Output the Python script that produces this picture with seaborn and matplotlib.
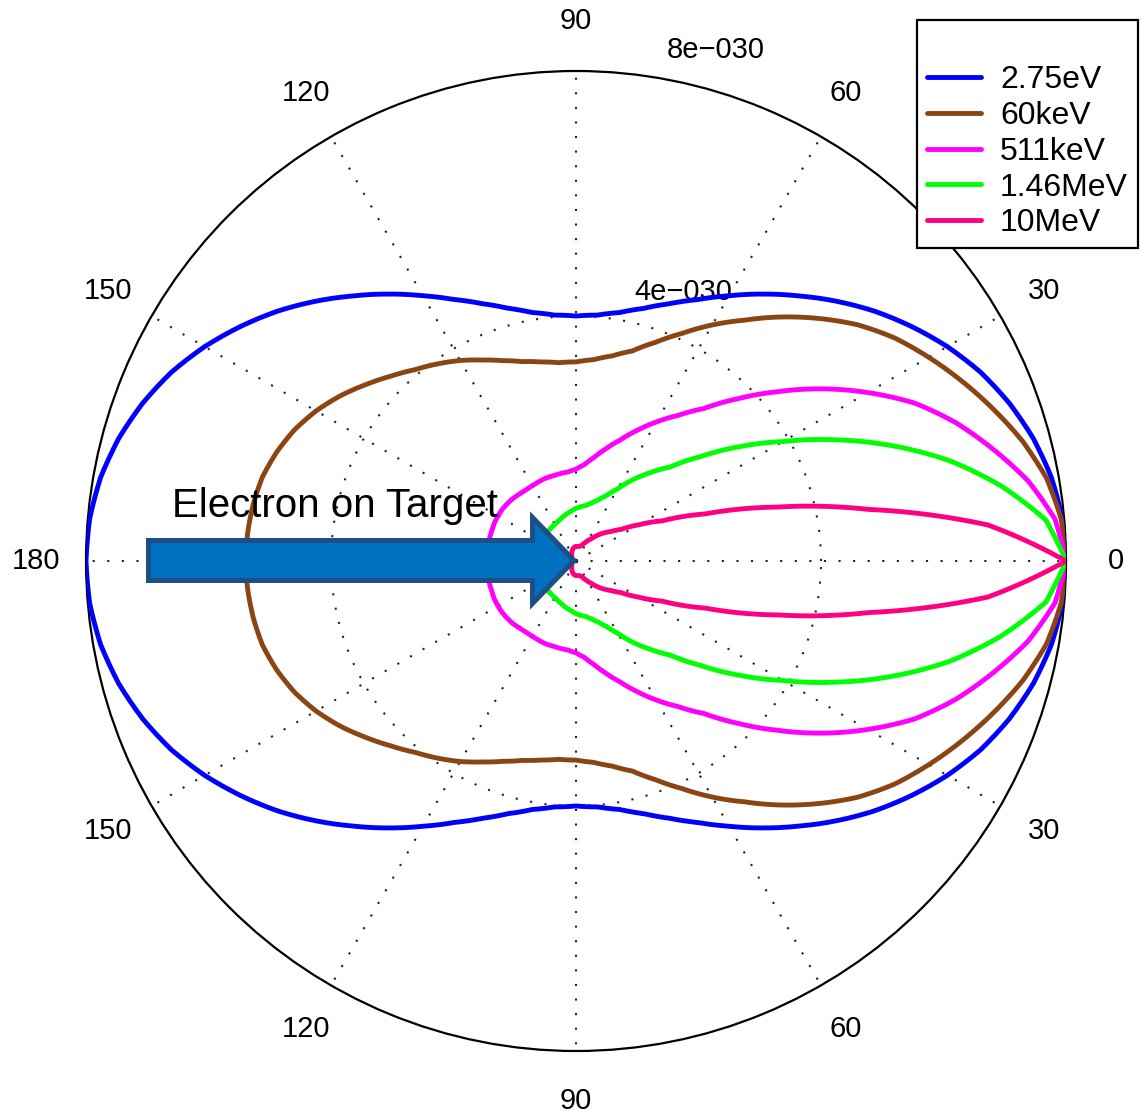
import numpy as np
import pandas as pd
import matplotlib
matplotlib.use("Agg")
import matplotlib.pyplot as plt
import seaborn as sns
from matplotlib.lines import Line2D
from matplotlib.patches import FancyArrow

# ---- data (upper half, angle in degrees 0..180; pattern is mirror-symmetric) ----
angles_deg = [0, 5, 10, 15, 20, 25, 30, 35, 40, 45, 50, 55, 60, 65, 70, 75, 80, 85, 90,
              95, 100, 105, 110, 115, 120, 125, 130, 135, 140, 145, 150, 155, 160, 165, 170, 175, 180]

# radial values in units of 1e-30
r_275eV = [8.00, 7.97, 7.88, 7.73, 7.53, 7.29, 7.00, 6.68, 6.35, 6.00, 5.65, 5.32, 5.00, 4.71, 4.47, 4.27, 4.12, 4.03, 4.00,
           4.03, 4.12, 4.27, 4.47, 4.71, 5.00, 5.32, 5.65, 6.00, 6.35, 6.68, 7.00, 7.29, 7.53, 7.73, 7.88, 7.97, 8.00]
r_60keV = [8.00, 7.95, 7.80, 7.55, 7.25, 6.95, 6.65, 6.35, 6.00, 5.60, 5.20, 4.80, 4.45, 4.10, 3.80, 3.55, 3.40, 3.30, 3.25,
           3.25, 3.30, 3.37, 3.48, 3.62, 3.78, 3.93, 4.08, 4.27, 4.48, 4.70, 4.90, 5.07, 5.20, 5.30, 5.35, 5.38, 5.39]
r_511keV = [8.00, 7.85, 7.50, 7.05, 6.60, 6.10, 5.50, 4.90, 4.30, 3.75, 3.25, 2.90, 2.62, 2.35, 2.10, 1.90, 1.72, 1.58, 1.50,
            1.46, 1.45, 1.44, 1.44, 1.43, 1.42, 1.42, 1.43, 1.45, 1.46, 1.47, 1.47, 1.47, 1.46, 1.46, 1.45, 1.45, 1.45]
r_146MeV = [8.00, 7.70, 7.05, 6.32, 5.50, 4.68, 3.90, 3.25, 2.65, 2.17, 1.88, 1.62, 1.36, 1.18, 1.06, 0.98, 0.92, 0.89, 0.86,
            0.82, 0.79, 0.76, 0.73, 0.71, 0.69, 0.68, 0.67, 0.67, 0.66, 0.65, 0.64, 0.63, 0.63, 0.62, 0.62, 0.62, 0.62]
r_10MeV = [8.00, 6.75, 4.85, 3.40, 2.25, 1.55, 1.18, 0.90, 0.75, 0.65, 0.55, 0.45, 0.38, 0.32, 0.27, 0.25, 0.24, 0.24, 0.24,
           0.23, 0.22, 0.20, 0.18, 0.16, 0.14, 0.12, 0.11, 0.10, 0.09, 0.08, 0.08, 0.07, 0.07, 0.07, 0.07, 0.07, 0.07]

series_labels = ["2.75eV", "60keV", "511keV", "1.46MeV", "10MeV"]
series_values = [r_275eV, r_60keV, r_511keV, r_146MeV, r_10MeV]
series_colors = ["#0000FF", "#8B4513", "#FF00FF", "#00FF00", "#FF0080"]

theta_tick_deg = [0, 30, 60, 90, 120, 150, 180, 210, 240, 270, 300, 330]
theta_tick_labels = ["0", "30", "60", "90", "120", "150", "180", "150", "120", "90", "60", "30"]
r_ticks = [4, 8]
r_tick_labels = ["4e\u2212030", "8e\u2212030"]

# ---- style ----
sns.set_theme(style="white")
plt.rcParams['font.family'] = ['Liberation Sans', 'DejaVu Sans']
plt.rcParams['text.color'] = 'black'

W, H = 1142, 1115
fig = plt.figure(figsize=(W / 100, H / 100), dpi=100)
fig.patch.set_facecolor("white")
cx, cy, R = 576, 561, 490
ax = fig.add_axes([(cx - R) / W, (H - cy - R) / H, 2 * R / W, 2 * R / H], projection='polar')
ax.set_facecolor("white")

# build full closed curves (mirror the upper half)
a = np.array(angles_deg, dtype=float)
rows = []
for lab, vals in zip(series_labels, series_values):
    v = np.array(vals, dtype=float)
    th = np.radians(np.concatenate([a, 360 - a[::-1][1:]]))
    rr = np.concatenate([v, v[::-1][1:]])
    for t, r in zip(th, rr):
        rows.append({"theta": t, "r": r, "energy": lab})
df = pd.DataFrame(rows)

sns.lineplot(data=df, x="theta", y="r", hue="energy", hue_order=series_labels,
             palette=dict(zip(series_labels, series_colors)), sort=False, estimator=None,
             linewidth=3.5, ax=ax, legend=False, zorder=3)

# render segments along polar arcs rather than straight chords
for ln in ax.lines:
    ln.get_path()._interpolation_steps = 12
    ln.set_solid_joinstyle("round")

ax.set_xlabel("")
ax.set_ylabel("")
ax.set_ylim(0, 8)
ax.set_yticks([4])
ax.set_yticklabels([])
ax.set_xticks(np.radians(theta_tick_deg))
ax.set_xticklabels([])
ax.tick_params(length=0)
ax.grid(True, color="#222222", linestyle=(0, (1, 6)), linewidth=1.5)
ax.spines['polar'].set_color("black")
ax.spines['polar'].set_linewidth(1.6)

lab_r = 8 * 540 / R
for d, t in zip(theta_tick_deg, theta_tick_labels):
    ax.text(np.radians(d), lab_r, t, ha="center", va="center", fontsize=21, clip_on=False)

ax.text(np.radians(68.3), 4.73, r_tick_labels[0], ha="center", va="center", fontsize=21, zorder=1)
ax.text(np.radians(74.7), 8.65, r_tick_labels[1], ha="center", va="center", fontsize=21, clip_on=False)

# legend with blank first entry
handles = [Line2D([], [], color="none")] + [Line2D([], [], color=c, lw=3.5) for c in series_colors]
labels = [""] + series_labels
leg = fig.legend(handles, labels, loc="upper left", bbox_to_anchor=(917 / W, 1 - 20 / H),
                 bbox_transform=fig.transFigure, frameon=True, fancybox=False, edgecolor="black",
                 framealpha=1, fontsize=23, handlelength=1.7, handletextpad=0.6,
                 labelspacing=0.18, borderpad=0.3, borderaxespad=0)
leg.get_frame().set_linewidth(1.6)

# annotation arrow and text
arrow = FancyArrow(148.5 / 100, (H - 560.5) / 100, 425.5 / 100, 0, width=0.40, head_width=0.86,
                   head_length=0.415, length_includes_head=True, transform=fig.dpi_scale_trans,
                   facecolor="#0070C0", edgecolor="#1F4E87", linewidth=3.6, joinstyle="miter", zorder=5)
fig.add_artist(arrow)
fig.text(172 / W, (H - 517) / H, "Electron on Target", fontsize=29, ha="left", va="baseline", zorder=6)

fig.savefig("out.png", dpi=100)
